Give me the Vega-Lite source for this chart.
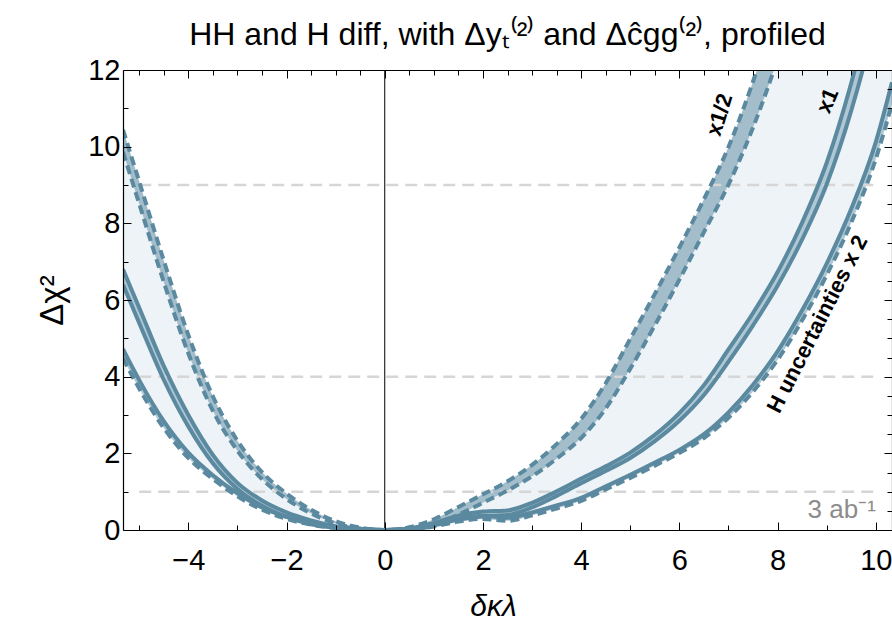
{
  "$schema": "https://vega.github.io/schema/vega-lite/v6.json",
  "width": 769,
  "height": 460,
  "autosize": "none",
  "padding": {"left": 123, "top": 70, "right": 0, "bottom": 100},
  "background": "white",
  "title": {"text": "HH and H diff, with Δyₜ⁽²⁾ and Δĉgg⁽²⁾, profiled", "font": "Liberation Sans", "fontSize": 32, "fontWeight": "normal", "color": "black", "anchor": "middle", "frame": "group", "baseline": "alphabetic", "offset": 14, "dy": 35},
  "config": {"view": {"stroke": null}},
  "data": {"values": [
    {"x": -5.33, "ah": 10.44, "al": 9.86, "bh": 6.8, "bl": 6.4, "ch": 4.72, "cl": 4.48},
    {"x": -5, "ah": 9.09, "al": 8.51, "bh": 5.8, "bl": 5.4, "ch": 3.91, "cl": 3.69},
    {"x": -4.5, "ah": 7.03, "al": 6.47, "bh": 4.28, "bl": 3.92, "ch": 2.84, "cl": 2.66},
    {"x": -4, "ah": 5.09, "al": 4.61, "bh": 3.0, "bl": 2.7, "ch": 2.02, "cl": 1.88},
    {"x": -3.5, "ah": 3.49, "al": 3.11, "bh": 1.96, "bl": 1.74, "ch": 1.43, "cl": 1.33},
    {"x": -3, "ah": 2.33, "al": 2.07, "bh": 1.23, "bl": 1.07, "ch": 0.96, "cl": 0.88},
    {"x": -2.5, "ah": 1.51, "al": 1.33, "bh": 0.77, "bl": 0.63, "ch": 0.59, "cl": 0.53},
    {"x": -2, "ah": 0.95, "al": 0.81, "bh": 0.46, "bl": 0.34, "ch": 0.35, "cl": 0.29},
    {"x": -1.5, "ah": 0.53, "al": 0.43, "bh": 0.25, "bl": 0.15, "ch": 0.18, "cl": 0.14},
    {"x": -1, "ah": 0.23, "al": 0.17, "bh": 0.1, "bl": 0.06, "ch": 0.07, "cl": 0.05},
    {"x": -0.5, "ah": 0.064, "al": 0.036, "bh": 0.03, "bl": 0.01, "ch": 0.015, "cl": 0.005},
    {"x": 0, "ah": 0, "al": 0, "bh": 0, "bl": 0, "ch": 0, "cl": 0},
    {"x": 0.5, "ah": 0.07, "al": 0.01, "bh": 0.04, "bl": 0.02, "ch": 0.03, "cl": 0.01},
    {"x": 1, "ah": 0.28, "al": 0.12, "bh": 0.18, "bl": 0.12, "ch": 0.15, "cl": 0.09},
    {"x": 1.5, "ah": 0.6, "al": 0.4, "bh": 0.37, "bl": 0.27, "ch": 0.3, "cl": 0.22},
    {"x": 2, "ah": 0.93, "al": 0.71, "bh": 0.48, "bl": 0.36, "ch": 0.37, "cl": 0.29},
    {"x": 2.5, "ah": 1.27, "al": 1.03, "bh": 0.51, "bl": 0.39, "ch": 0.32, "cl": 0.24},
    {"x": 3, "ah": 1.7, "al": 1.4, "bh": 0.71, "bl": 0.59, "ch": 0.46, "cl": 0.38},
    {"x": 3.5, "ah": 2.24, "al": 1.86, "bh": 1.01, "bl": 0.89, "ch": 0.64, "cl": 0.56},
    {"x": 4, "ah": 2.9, "al": 2.4, "bh": 1.34, "bl": 1.22, "ch": 0.84, "cl": 0.76},
    {"x": 4.5, "ah": 3.83, "al": 3.17, "bh": 1.66, "bl": 1.54, "ch": 1.14, "cl": 1.06},
    {"x": 5, "ah": 4.99, "al": 4.21, "bh": 2.02, "bl": 1.88, "ch": 1.44, "cl": 1.36},
    {"x": 5.5, "ah": 6.16, "al": 5.34, "bh": 2.48, "bl": 2.32, "ch": 1.76, "cl": 1.68},
    {"x": 6, "ah": 7.37, "al": 6.53, "bh": 3.05, "bl": 2.85, "ch": 2.09, "cl": 2.01},
    {"x": 6.5, "ah": 8.63, "al": 7.77, "bh": 3.78, "bl": 3.52, "ch": 2.5, "cl": 2.4},
    {"x": 7, "ah": 9.99, "al": 9.01, "bh": 4.71, "bl": 4.39, "ch": 3.07, "cl": 2.93},
    {"x": 7.5, "ah": 11.7, "al": 10.5, "bh": 5.66, "bl": 5.34, "ch": 3.79, "cl": 3.61},
    {"x": 8, "ah": 13.71, "al": 12.29, "bh": 6.73, "bl": 6.37, "ch": 4.66, "cl": 4.44},
    {"x": 8.5, "ah": 16.2, "al": 14.4, "bh": 8.02, "bl": 7.58, "ch": 5.73, "cl": 5.47},
    {"x": 9, "ah": 19, "al": 16.6, "bh": 9.58, "bl": 9.02, "ch": 6.95, "cl": 6.65},
    {"x": 9.5, "ah": 22, "al": 19, "bh": 11.66, "bl": 10.94, "ch": 8.38, "cl": 8.02},
    {"x": 10, "ah": 25, "al": 22, "bh": 14.24, "bl": 13.36, "ch": 10.12, "cl": 9.68},
    {"x": 10.33, "ah": 27, "al": 24, "bh": 16.3, "bl": 15.3, "ch": 11.68, "cl": 11.12}
  ]},
  "layer": [
    {"mark": {"type": "area", "color": "#edf3f6", "interpolate": "monotone", "clip": true},
      "encoding": {
        "x": {"field": "x", "type": "quantitative", "scale": {"domain": [-5.33, 10.33], "nice": false, "zero": false}, "axis": null},
        "y": {"field": "cl", "type": "quantitative", "scale": {"domain": [0, 12], "nice": false}, "axis": null},
        "y2": {"field": "ah"}}},
    {"mark": {"type": "area", "color": "#a3bdcb", "interpolate": "monotone", "clip": true},
      "encoding": {
        "x": {"field": "x", "type": "quantitative", "scale": {"domain": [-5.33, 10.33], "nice": false, "zero": false}, "axis": null},
        "y": {"field": "al", "type": "quantitative", "scale": {"domain": [0, 12], "nice": false}, "axis": null},
        "y2": {"field": "ah"}}},
    {"mark": {"type": "area", "color": "#b0c8d4", "interpolate": "monotone", "clip": true},
      "encoding": {
        "x": {"field": "x", "type": "quantitative", "scale": {"domain": [-5.33, 10.33], "nice": false, "zero": false}, "axis": null},
        "y": {"field": "bl", "type": "quantitative", "scale": {"domain": [0, 12], "nice": false}, "axis": null},
        "y2": {"field": "bh"}}},
    {"mark": {"type": "area", "color": "#b0c8d4", "interpolate": "monotone", "clip": true},
      "encoding": {
        "x": {"field": "x", "type": "quantitative", "scale": {"domain": [-5.33, 10.33], "nice": false, "zero": false}, "axis": null},
        "y": {"field": "cl", "type": "quantitative", "scale": {"domain": [0, 12], "nice": false}, "axis": null},
        "y2": {"field": "ch"}}},
    {"data": {"values": [{"g": 1, "xa": -5, "xb": 10}, {"g": 4, "xa": -5, "xb": 10}, {"g": 9, "xa": -5, "xb": 10}]},
      "mark": {"type": "rule", "color": "#d6d6d6", "strokeWidth": 2.5, "strokeDash": [12, 7]},
      "encoding": {
        "x": {"field": "xa", "type": "quantitative", "scale": {"domain": [-5.33, 10.33], "nice": false, "zero": false}, "axis": null},
        "x2": {"field": "xb"},
        "y": {"field": "g", "type": "quantitative", "scale": {"domain": [0, 12], "nice": false}, "axis": null}}},
    {"data": {"values": [{"v": 0, "ya": 0, "yb": 12}]},
      "mark": {"type": "rule", "color": "black", "strokeWidth": 1},
      "encoding": {
        "x": {"field": "v", "type": "quantitative", "scale": {"domain": [-5.33, 10.33], "nice": false, "zero": false}, "axis": null},
        "y": {"field": "ya", "type": "quantitative", "scale": {"domain": [0, 12], "nice": false}, "axis": null},
        "y2": {"field": "yb"}}},
    {"mark": {"type": "line", "color": "#5a89a0", "strokeWidth": 4, "strokeDash": [9, 5], "interpolate": "monotone", "clip": true},
      "encoding": {
        "x": {"field": "x", "type": "quantitative", "scale": {"domain": [-5.33, 10.33], "nice": false, "zero": false}, "axis": null},
        "y": {"field": "ah", "type": "quantitative", "scale": {"domain": [0, 12], "nice": false}, "axis": null}}},
    {"mark": {"type": "line", "color": "#5a89a0", "strokeWidth": 4, "strokeDash": [9, 5], "interpolate": "monotone", "clip": true},
      "encoding": {
        "x": {"field": "x", "type": "quantitative", "scale": {"domain": [-5.33, 10.33], "nice": false, "zero": false}, "axis": null},
        "y": {"field": "al", "type": "quantitative", "scale": {"domain": [0, 12], "nice": false}, "axis": null}}},
    {"mark": {"type": "line", "color": "#5a89a0", "strokeWidth": 4, "interpolate": "monotone", "clip": true},
      "encoding": {
        "x": {"field": "x", "type": "quantitative", "scale": {"domain": [-5.33, 10.33], "nice": false, "zero": false}, "axis": null},
        "y": {"field": "bh", "type": "quantitative", "scale": {"domain": [0, 12], "nice": false}, "axis": null}}},
    {"mark": {"type": "line", "color": "#5a89a0", "strokeWidth": 4, "interpolate": "monotone", "clip": true},
      "encoding": {
        "x": {"field": "x", "type": "quantitative", "scale": {"domain": [-5.33, 10.33], "nice": false, "zero": false}, "axis": null},
        "y": {"field": "bl", "type": "quantitative", "scale": {"domain": [0, 12], "nice": false}, "axis": null}}},
    {"mark": {"type": "line", "color": "#5a89a0", "strokeWidth": 4, "interpolate": "monotone", "clip": true},
      "encoding": {
        "x": {"field": "x", "type": "quantitative", "scale": {"domain": [-5.33, 10.33], "nice": false, "zero": false}, "axis": null},
        "y": {"field": "ch", "type": "quantitative", "scale": {"domain": [0, 12], "nice": false}, "axis": null}}},
    {"mark": {"type": "line", "color": "#5a89a0", "strokeWidth": 4, "strokeDash": [9, 5], "interpolate": "monotone", "clip": true},
      "encoding": {
        "x": {"field": "x", "type": "quantitative", "scale": {"domain": [-5.33, 10.33], "nice": false, "zero": false}, "axis": null},
        "y": {"field": "cl", "type": "quantitative", "scale": {"domain": [0, 12], "nice": false}, "axis": null}}},
    {"data": {"values": [{"t": "x1/2", "tx": 6.82, "ty": 10.83}]},
      "mark": {"type": "text", "font": "Liberation Sans", "fontSize": 22, "fontWeight": "bold", "color": "black", "angle": -73, "align": "center", "baseline": "middle"},
      "encoding": {"text": {"field": "t"},
        "x": {"field": "tx", "type": "quantitative", "scale": {"domain": [-5.33, 10.33], "nice": false, "zero": false}, "axis": null},
        "y": {"field": "ty", "type": "quantitative", "scale": {"domain": [0, 12], "nice": false}, "axis": null}}},
    {"data": {"values": [{"t": "x1", "tx": 9.02, "ty": 11.2}]},
      "mark": {"type": "text", "font": "Liberation Sans", "fontSize": 22, "fontWeight": "bold", "color": "black", "angle": -67, "align": "center", "baseline": "middle"},
      "encoding": {"text": {"field": "t"},
        "x": {"field": "tx", "type": "quantitative", "scale": {"domain": [-5.33, 10.33], "nice": false, "zero": false}, "axis": null},
        "y": {"field": "ty", "type": "quantitative", "scale": {"domain": [0, 12], "nice": false}, "axis": null}}},
    {"data": {"values": [{"t": "H uncertainties x 2", "tx": 8.81, "ty": 5.37}]},
      "mark": {"type": "text", "font": "Liberation Sans", "fontSize": 22, "fontWeight": "bold", "color": "black", "angle": -63, "align": "center", "baseline": "middle"},
      "encoding": {"text": {"field": "t"},
        "x": {"field": "tx", "type": "quantitative", "scale": {"domain": [-5.33, 10.33], "nice": false, "zero": false}, "axis": null},
        "y": {"field": "ty", "type": "quantitative", "scale": {"domain": [0, 12], "nice": false}, "axis": null}}},
    {"data": {"values": [{"t": "3 ab⁻¹", "tx": 10.0, "ty": 0.31}]},
      "mark": {"type": "text", "font": "Liberation Sans", "fontSize": 26, "color": "#8c8c8c", "align": "right", "baseline": "alphabetic"},
      "encoding": {"text": {"field": "t"},
        "x": {"field": "tx", "type": "quantitative", "scale": {"domain": [-5.33, 10.33], "nice": false, "zero": false}, "axis": null},
        "y": {"field": "ty", "type": "quantitative", "scale": {"domain": [0, 12], "nice": false}, "axis": null}}},
    {
      "mark": {"type": "point", "opacity": 0, "clip": true},
      "encoding": {
        "x": {"field": "x", "type": "quantitative", "scale": {"domain": [-5.33, 10.33], "nice": false, "zero": false},
          "axis": {"orient": "bottom", "values": [-5,-4.5,-4,-3.5,-3,-2.5,-2,-1.5,-1,-0.5,0,0.5,1,1.5,2,2.5,3,3.5,4,4.5,5,5.5,6,6.5,7,7.5,8,8.5,9,9.5,10],
            "format": "d", "labelExpr": "datum.value % 2 === 0 ? datum.label : ''",
            "tickSize": {"condition": {"test": "datum.value % 2 === 0", "value": -8}, "value": -5},
            "tickColor": "black", "tickWidth": 1, "grid": false,
            "domain": true, "domainColor": "black", "domainWidth": 1.2,
            "labelFont": "Liberation Sans", "labelFontSize": 29, "labelColor": "black", "labelPadding": 24, "labelOverlap": false, "labelFlush": false,
            "title": "δκλ", "titleFont": "Liberation Sans", "titleFontSize": 30, "titleFontStyle": "italic", "titleFontWeight": "normal", "titleColor": "black",
            "titleX": 370, "titleY": 76, "titleBaseline": "middle", "titleAlign": "center", "zindex": 1}},
        "y": {"field": "cl", "type": "quantitative", "scale": {"domain": [0, 12], "nice": false},
          "axis": {"orient": "left", "values": [0,0.5,1,1.5,2,2.5,3,3.5,4,4.5,5,5.5,6,6.5,7,7.5,8,8.5,9,9.5,10,10.5,11,11.5,12],
            "format": "d", "labelExpr": "datum.value % 2 === 0 ? datum.label : ''",
            "tickSize": {"condition": {"test": "datum.value % 2 === 0", "value": -8}, "value": -5},
            "tickColor": "black", "tickWidth": 1, "grid": false,
            "domain": true, "domainColor": "black", "domainWidth": 1.2,
            "labelFont": "Liberation Sans", "labelFontSize": 29, "labelColor": "black", "labelPadding": 11, "labelOverlap": false, "labelFlush": false,
            "title": "Δχ²", "titleFont": "Liberation Sans", "titleFontSize": 33, "titleFontWeight": "normal", "titleColor": "black",
            "titleAngle": -90, "titleX": -71, "titleY": 230, "titleBaseline": "middle", "titleAlign": "center", "zindex": 1}}
      }
    },
    {
      "mark": {"type": "point", "opacity": 0, "clip": true},
      "encoding": {
        "x": {"field": "x", "type": "quantitative", "scale": {"domain": [-5.33, 10.33], "nice": false, "zero": false},
          "axis": {"orient": "top", "values": [-5,-4.5,-4,-3.5,-3,-2.5,-2,-1.5,-1,-0.5,0,0.5,1,1.5,2,2.5,3,3.5,4,4.5,5,5.5,6,6.5,7,7.5,8,8.5,9,9.5,10],
            "labels": false, "title": null, "grid": false,
            "tickSize": {"condition": {"test": "datum.value % 2 === 0", "value": -8}, "value": -5},
            "tickColor": "black", "tickWidth": 1, "domain": true, "domainColor": "black", "domainWidth": 1.2, "zindex": 1}},
        "y": {"field": "cl", "type": "quantitative", "scale": {"domain": [0, 12], "nice": false},
          "axis": {"orient": "right", "values": [0,0.5,1,1.5,2,2.5,3,3.5,4,4.5,5,5.5,6,6.5,7,7.5,8,8.5,9,9.5,10,10.5,11,11.5,12],
            "labels": false, "title": null, "grid": false,
            "tickSize": {"condition": {"test": "datum.value % 2 === 0", "value": -8}, "value": -5},
            "tickColor": "black", "tickWidth": 1, "domain": true, "domainColor": "black", "domainWidth": 1.2, "zindex": 1}}
      }
    }
  ],
  "resolve": {"axis": {"x": "independent", "y": "independent"}}
}
